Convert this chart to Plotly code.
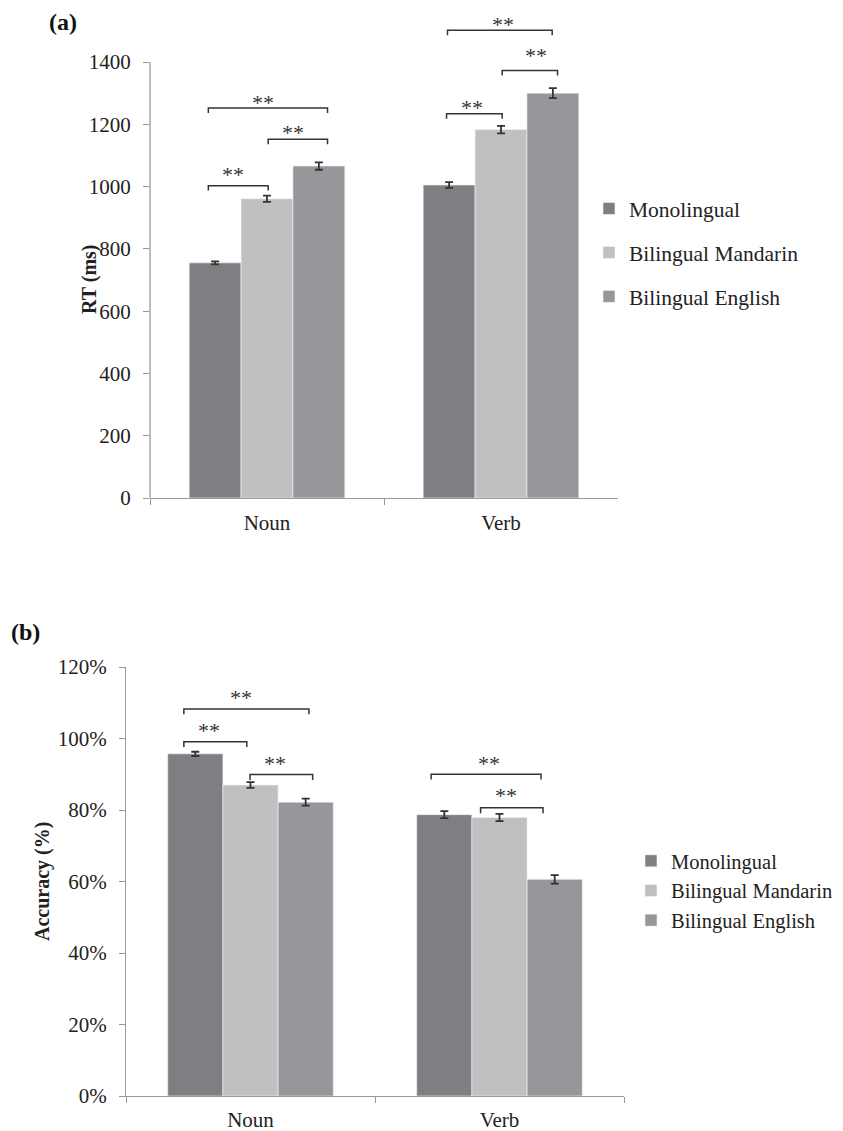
import plotly.graph_objects as go

# ---------------- data ----------------
categories = ["Noun", "Verb"]
groups = ["Monolingual", "Bilingual Mandarin", "Bilingual English"]
colors = ["#7e7f83", "#bfc0c2", "#96979b"]

rt_mono = [755, 1005]
rt_mand = [961, 1183]
rt_eng = [1066, 1300]
rt_mono_err = [5, 9]
rt_mand_err = [10, 12]
rt_eng_err = [12, 16]

acc_mono = [0.957, 0.787]
acc_mand = [0.870, 0.779]
acc_eng = [0.822, 0.606]
acc_mono_err = [0.006, 0.010]
acc_mand_err = [0.008, 0.010]
acc_eng_err = [0.010, 0.012]

rt_ticks = [0, 200, 400, 600, 800, 1000, 1200, 1400]
acc_ticks = [0, 0.2, 0.4, 0.6, 0.8, 1.0, 1.2]

# significance brackets:
# (category index, group from, group to, level, nudge from, nudge to, label dx px, label gap px)
rt_sig = [
    (0, 0, 1, 1003, -0.029, 0.005, -5, 15.5),
    (0, 1, 2, 1152, 0.005, 0.037, -5, 10.5),
    (0, 0, 2, 1252, -0.029, 0.037, -5, 10),
    (1, 0, 1, 1234, -0.011, 0.005, -2, 10),
    (1, 1, 2, 1373, 0.005, 0.020, 6, 19),
    (1, 0, 2, 1502, -0.007, -0.003, 3, 10),
]
acc_sig = [
    (0, 0, 2, 1.0825, -0.046, 0.013, -5, 15.5),
    (0, 0, 1, 0.991, -0.046, -0.015, -6, 15.5),
    (0, 1, 2, 0.899, -0.002, 0.028, -6, 15.5),
    (1, 0, 2, 0.900, -0.053, -0.055, 3, 15),
    (1, 1, 2, 0.806, -0.076, -0.047, -6, 16),
]

# ---------------- figure ----------------
PAGE_OFF = 8          # default body margin of the html page
WIN_W, WIN_H = 843, 1131
W, H = WIN_W - PAGE_OFF, WIN_H - PAGE_OFF
FONT = "Liberation Serif"
AX = "#9a9a9a"
BARGAP = 0.335
bw = (1 - BARGAP) / 3
offsets = [-bw, 0, bw]

fig = go.Figure()

rt_vals = [rt_mono, rt_mand, rt_eng]
rt_errs = [rt_mono_err, rt_mand_err, rt_eng_err]
acc_vals = [acc_mono, acc_mand, acc_eng]
acc_errs = [acc_mono_err, acc_mand_err, acc_eng_err]

for i, g in enumerate(groups):
    fig.add_trace(go.Bar(
        x=categories, y=rt_vals[i], name=g,
        marker=dict(color=colors[i], line=dict(width=0.6, color="#f4f4f4")),
        error_y=dict(type="data", array=rt_errs[i], color="#333333", thickness=1.8, width=4),
        xaxis="x", yaxis="y", legend="legend", legendgroup="a%d" % i,
    ))
for i, g in enumerate(groups):
    fig.add_trace(go.Bar(
        x=categories, y=acc_vals[i], name=g,
        marker=dict(color=colors[i], line=dict(width=0.6, color="#f4f4f4")),
        error_y=dict(type="data", array=acc_errs[i], color="#333333", thickness=1.8, width=4),
        xaxis="x2", yaxis="y2", legend="legend2", legendgroup="b%d" % i,
    ))

def px_y(p):
    return 1 - (p - PAGE_OFF) / H

def px_x(p):
    return (p - PAGE_OFF) / W

# layout geometry (window pixels)
top_y0, top_ymax = 498, 1530
top_scale = (498 - 62) / 1400.0
top_ytop = top_y0 - top_ymax * top_scale
bot_y0, bot_ytop = 1096, 667

TICKF = dict(size=21, family=FONT, color="#222222")

fig.update_layout(
    width=W, height=H,
    margin=dict(l=0, r=0, t=0, b=0, autoexpand=False),
    paper_bgcolor="white", plot_bgcolor="white",
    barmode="group", bargap=BARGAP, bargroupgap=0,
    font=dict(family=FONT, size=21, color="#222222"),
    xaxis=dict(domain=[px_x(150), px_x(618)], anchor="y", showline=True, linecolor=AX, linewidth=1.3,
               ticks="outside", tickson="boundaries", ticklen=6, tickcolor=AX, tickwidth=1.3,
               showgrid=False, zeroline=False, tickfont=TICKF, ticklabelstandoff=6, automargin=False),
    yaxis=dict(domain=[px_y(top_y0), px_y(top_ytop)], anchor="x", range=[0, top_ymax],
               showline=False, ticks="outside", ticklen=6, tickcolor=AX, tickwidth=1.3,
               tickvals=rt_ticks, showgrid=False, zeroline=False, tickfont=TICKF,
               ticklabelstandoff=8, automargin=False),
    xaxis2=dict(domain=[px_x(126), px_x(624)], anchor="y2", showline=True, linecolor=AX, linewidth=1.3,
                ticks="outside", tickson="boundaries", ticklen=6, tickcolor=AX, tickwidth=1.3,
                showgrid=False, zeroline=False, tickfont=TICKF, ticklabelstandoff=5, automargin=False),
    yaxis2=dict(domain=[px_y(bot_y0), px_y(bot_ytop)], anchor="x2", range=[0, 1.2],
                showline=True, linecolor=AX, linewidth=1.3, ticks="outside", ticklen=6,
                tickcolor=AX, tickwidth=1.3, tickvals=acc_ticks, tickformat=".0%",
                showgrid=False, zeroline=False, tickfont=TICKF, ticklabelstandoff=8, automargin=False),
    legend=dict(x=px_x(589), y=px_y(188), xanchor="left", yanchor="top", tracegroupgap=13,
                font=dict(size=21.5, family=FONT, color="#222222"), bgcolor="rgba(0,0,0,0)",
                itemclick=False),
    legend2=dict(x=px_x(631), y=px_y(841), xanchor="left", yanchor="top", tracegroupgap=0,
                 font=dict(size=20.5, family=FONT, color="#222222"), bgcolor="rgba(0,0,0,0)",
                 itemclick=False),
    showlegend=True,
)

# top y-axis line only up to the last tick
fig.add_shape(type="line", xref="x domain", yref="y", x0=0, x1=0, y0=0, y1=rt_ticks[-1],
              line=dict(color=AX, width=1.3))

def add_brackets(sig, xref, yref, tick):
    for (c, g0, g1, lvl, n0, n1, dx, gap) in sig:
        xa = c + offsets[g0] + n0
        xb = c + offsets[g1] + n1
        fig.add_shape(type="path", xref=xref, yref=yref,
                      path="M %f,%f L %f,%f L %f,%f L %f,%f" % (xa, lvl - tick, xa, lvl, xb, lvl, xb, lvl - tick),
                      line=dict(color="#333333", width=1.5))
        fig.add_annotation(x=(xa + xb) / 2, y=lvl, xref=xref, yref=yref, text="**", showarrow=False,
                           yanchor="middle", xshift=dx, yshift=gap - 4,
                           font=dict(size=22, family=FONT, color="#333333"))

add_brackets(rt_sig, "x", "y", 16)
add_brackets(acc_sig, "x2", "y2", 0.015)

# axis titles and panel labels
fig.add_annotation(text="<b>RT (ms)</b>", x=px_x(89), y=px_y(280), xref="paper", yref="paper",
                   xanchor="center", yanchor="middle",
                   textangle=-90, showarrow=False, font=dict(size=20, family=FONT, color="#222222"))
fig.add_annotation(text="<b>Accuracy (%)</b>", x=px_x(42), y=px_y(882), xref="paper", yref="paper",
                   xanchor="center", yanchor="middle",
                   textangle=-90, showarrow=False, font=dict(size=20, family=FONT, color="#222222"))
fig.add_annotation(text="<b>(a)</b>", x=px_x(47), y=px_y(22), xref="paper", yref="paper",
                   xanchor="left", yanchor="middle", showarrow=False,
                   font=dict(size=24, family=FONT, color="#111111"))
fig.add_annotation(text="<b>(b)</b>", x=px_x(9), y=px_y(632), xref="paper", yref="paper",
                   xanchor="left", yanchor="middle", showarrow=False,
                   font=dict(size=24, family=FONT, color="#111111"))

fig.write_html("out.html")
